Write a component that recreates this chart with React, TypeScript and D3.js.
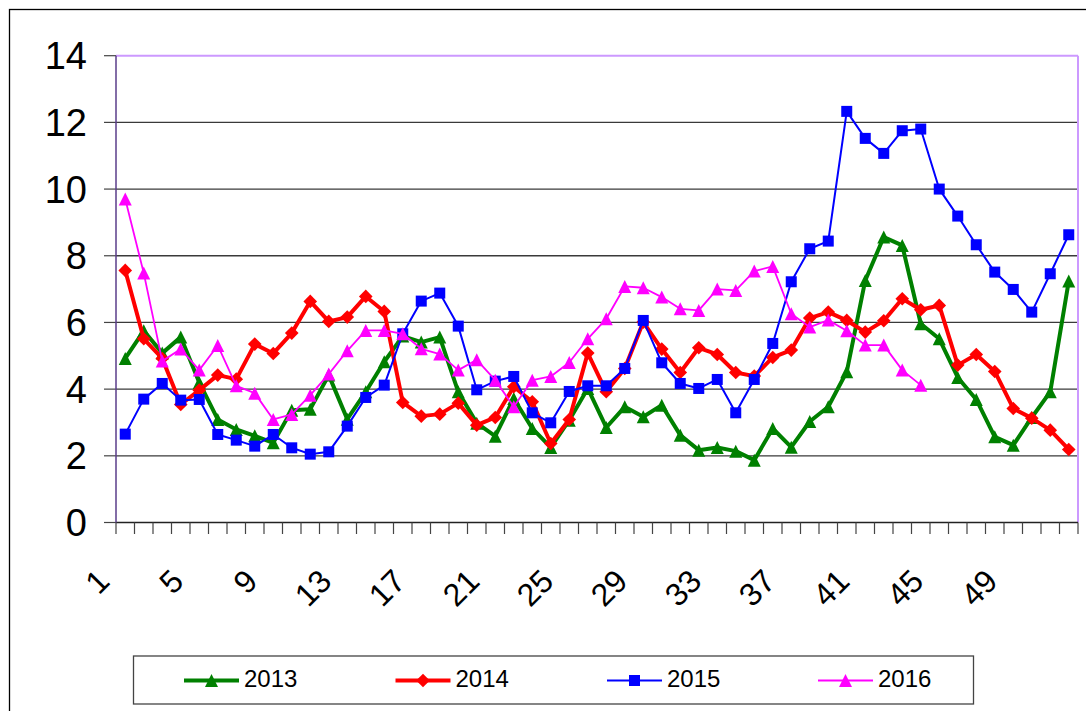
import React from "react";
import * as d3 from "d3";

const weeks: number[] = Array.from({ length: 52 }, (_, i) => i + 1);
const tickLabelWeeks: number[] = [1, 5, 9, 13, 17, 21, 25, 29, 33, 37, 41, 45, 49];
const yTicks: number[] = [0, 2, 4, 6, 8, 10, 12, 14];

const s2013: number[] = [
  4.92, 5.75, 5.08, 5.56, 4.2, 3.09, 2.79, 2.6, 2.39, 3.37, 3.4, 4.42, 3.1,
  3.92, 4.82, 5.59, 5.41, 5.56, 3.92, 2.98, 2.59, 3.72, 2.82, 2.25, 3.07, 4.02,
  2.85, 3.47, 3.17, 3.52, 2.62, 2.17, 2.25, 2.14, 1.87, 2.82, 2.26, 3.03, 3.47,
  4.52, 7.26, 8.56, 8.31, 5.96, 5.51, 4.35, 3.69, 2.57, 2.32, 3.15, 3.92, 7.24,
];
const s2014: number[] = [
  7.56, 5.51, 4.92, 3.54, 3.97, 4.42, 4.3, 5.35, 5.07, 5.68, 6.63, 6.03, 6.16,
  6.78, 6.33, 3.6, 3.19, 3.25, 3.58, 2.92, 3.15, 4.07, 3.62, 2.37, 3.09, 5.08,
  3.92, 4.62, 6.01, 5.2, 4.5, 5.24, 5.04, 4.5, 4.39, 4.95, 5.17, 6.13, 6.31,
  6.06, 5.71, 6.05, 6.71, 6.38, 6.51, 4.72, 5.04, 4.53, 3.42, 3.13, 2.77, 2.19,
];
const s2015: number[] = [
  2.65, 3.7, 4.17, 3.67, 3.69, 2.64, 2.47, 2.29, 2.64, 2.24, 2.05, 2.12, 2.89,
  3.75, 4.12, 5.66, 6.64, 6.88, 5.89, 3.98, 4.24, 4.38, 3.29, 2.99, 3.93, 4.1,
  4.1, 4.62, 6.06, 4.79, 4.17, 4.02, 4.29, 3.29, 4.29, 5.37, 7.22, 8.21, 8.44,
  12.33, 11.52, 11.07, 11.75, 11.8, 10.0, 9.19, 8.33, 7.51, 6.99, 6.31, 7.46, 8.63,
];
const s2016: number[] = [
  9.7, 7.48, 4.84, 5.2, 4.57, 5.31, 4.1, 3.88, 3.09, 3.24, 3.82, 4.45, 5.15,
  5.76, 5.76, 5.66, 5.21, 5.05, 4.57, 4.88, 4.27, 3.47, 4.27, 4.38, 4.8, 5.51,
  6.11, 7.08, 7.04, 6.76, 6.41, 6.36, 7.0, 6.96, 7.54, 7.68, 6.26, 5.86, 6.07,
  5.75, 5.32, 5.32, 4.57, 4.12,
];

const seriesNames: string[] = ["2013", "2014", "2015", "2016"];

type Shape = "triangle" | "diamond" | "square";
const seriesDefs = [
  { name: seriesNames[0], values: s2013, color: "#008000", width: 4, shape: "triangle" as Shape, size: 13 },
  { name: seriesNames[1], values: s2014, color: "#ff0000", width: 4, shape: "diamond" as Shape, size: 13 },
  { name: seriesNames[2], values: s2015, color: "#0000ff", width: 2, shape: "square" as Shape, size: 11 },
  { name: seriesNames[3], values: s2016, color: "#ff00ff", width: 1.8, shape: "triangle" as Shape, size: 13 },
];

const FONT = "'Liberation Sans', Arial, Helvetica, sans-serif";

function Marker({ shape, x, y, size, color }: { shape: Shape; x: number; y: number; size: number; color: string }) {
  const h = size / 2;
  if (shape === "square") {
    return <rect x={x - h} y={y - h} width={size} height={size} fill={color} />;
  }
  if (shape === "diamond") {
    const d = h * 1.05;
    return <polygon points={`${x},${y - d} ${x + d},${y} ${x},${y + d} ${x - d},${y}`} fill={color} />;
  }
  return <polygon points={`${x},${y - h} ${x + h},${y + h} ${x - h},${y + h}`} fill={color} />;
}

export default function App() {
  const W = 1086;
  const H = 711;
  const left = 116;
  const right = 1078;
  const top = 55.7;
  const bottom = 522.5;

  const x = d3.scaleBand<number>().domain(weeks).range([left, right]).paddingInner(0).paddingOuter(0);
  const y = d3.scaleLinear().domain([0, 14]).range([bottom, top]);
  const cx = (w: number) => (x(w) as number) + x.bandwidth() / 2;

  const line = d3
    .line<number>()
    .x((_, i) => cx(weeks[i]))
    .y((v) => y(v));

  const boundaries = weeks.map((w) => x(w) as number).concat([right]);

  const legendItemX = [184, 395.5, 607, 818];

  return (
    <div style={{ position: "fixed", left: 0, top: 0, width: W, height: H, overflow: "hidden", background: "#fff" }}>
      <svg width={W} height={H} style={{ display: "block" }} fontFamily={FONT}>
        <rect x={0} y={0} width={W} height={H} fill="#fff" />
        {/* outer chart frame */}
        <rect x={9.5} y={9.5} width={W + 20} height={H + 20} fill="none" stroke="#000" strokeWidth={1.3} />

        {/* gridlines */}
        {yTicks
          .filter((t) => t > 0 && t < 14)
          .map((t) => (
            <line key={"g" + t} x1={left} x2={right} y1={y(t)} y2={y(t)} stroke="#3a3a3a" strokeWidth={1.3} />
          ))}

        {/* plot border top/right */}
        <line x1={left} x2={right} y1={top} y2={top} stroke="#cc99ff" strokeWidth={2} />
        <line x1={right} x2={right} y1={top} y2={bottom} stroke="#cc99ff" strokeWidth={2} />

        {/* y ticks */}
        {yTicks.map((t) => (
          <line key={"yt" + t} x1={104} x2={left} y1={y(t)} y2={y(t)} stroke="#444" strokeWidth={1.2} />
        ))}
        {/* y labels */}
        {yTicks.map((t) => (
          <text key={"yl" + t} x={87} y={y(t)} dy="0.36em" textAnchor="end" fontSize={38} fill="#000">
            {t}
          </text>
        ))}

        {/* x axis */}
        <line x1={left} x2={right} y1={bottom} y2={bottom} stroke="#222" strokeWidth={1.3} />
        {boundaries.map((b, i) => (
          <line key={"xt" + i} x1={b} x2={b} y1={bottom} y2={534} stroke="#444" strokeWidth={1.2} />
        ))}
        {tickLabelWeeks.map((w) => (
          <text
            key={"xl" + w}
            transform={`translate(${cx(w) - 22},${575}) rotate(-45)`}
            dy="0.36em"
            textAnchor="end"
            fontSize={32}
            fill="#000"
          >
            {w}
          </text>
        ))}

        {/* y axis */}
        <line x1={left} x2={left} y1={top} y2={bottom} stroke="#5a3d8a" strokeWidth={1.5} />

        {/* series */}
        {seriesDefs.map((s) => (
          <g key={s.name}>
            <path d={line(s.values) || ""} fill="none" stroke={s.color} strokeWidth={s.width} strokeLinejoin="round" />
            {s.values.map((v, i) => (
              <Marker key={i} shape={s.shape} x={cx(weeks[i])} y={y(v)} size={s.size} color={s.color} />
            ))}
          </g>
        ))}

        {/* legend */}
        <rect x={133.5} y={656} width={840} height={48} fill="#fff" stroke="#444" strokeWidth={1.3} />
        {seriesDefs.map((s, i) => {
          const lx = legendItemX[i];
          return (
            <g key={"lg" + s.name}>
              <line x1={lx} x2={lx + 55} y1={680.5} y2={680.5} stroke={s.color} strokeWidth={s.width} />
              <Marker shape={s.shape} x={lx + 27.5} y={680.5} size={s.size} color={s.color} />
              <text x={lx + 60} y={687} fontSize={24} fill="#000">
                {s.name}
              </text>
            </g>
          );
        })}
      </svg>
    </div>
  );
}
